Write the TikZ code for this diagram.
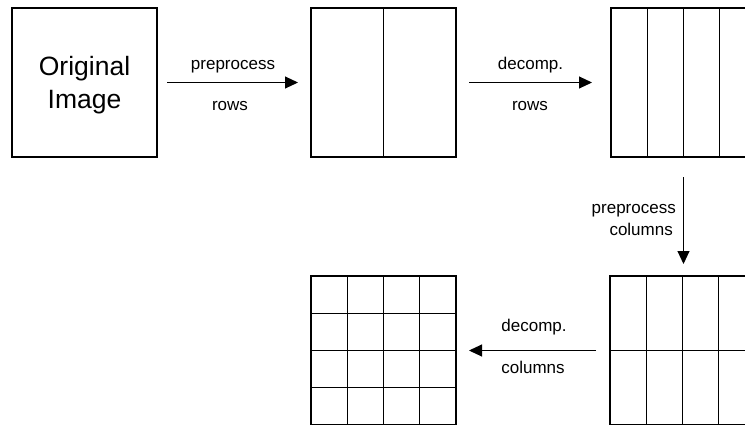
\documentclass[tikz,border=0pt]{standalone}
\usepackage{fontspec}
\setmainfont{Liberation Sans}
\usetikzlibrary{arrows.meta,calc}

\tikzset{
  panel/.style={draw, line width=1.1pt, minimum width=145pt, minimum height=149pt,
                inner sep=0pt, outer sep=0pt},
  grid/.style={line width=1.1pt},
  arr/.style={line width=1pt, -{Triangle[length=13pt,width=12pt]}},
  lbl/.style={inner sep=0pt, font=\fontsize{17}{22}\selectfont},
  title/.style={font=\fontsize{26.5}{33}\selectfont, align=center}
}

\begin{document}
\begin{tikzpicture}[x=1pt,y=-1pt]
  \useasboundingbox (0,0) rectangle (745,424);
  \clip (0,0) rectangle (745,424);

  % source image
  \node[panel, title] (orig) at (84.5,82.5) {\rule{0pt}{23.7pt}Original\\Image};

  % split into two columns
  \node[panel] (half) at (383.5,82.5) {};
  \draw[grid] (half.north) -- (half.south);

  % split into four columns
  \node[panel] (quarter) at (683.5,82.5) {};
  \foreach \f in {0.25,0.5,0.75}
    \draw[grid] ($(quarter.north west)!\f!(quarter.north east)$) -- ($(quarter.south west)!\f!(quarter.south east)$);

  % four columns, two rows
  \node[panel] (eighth) at (682.5,350.5) {};
  \foreach \f in {0.25,0.5,0.75}
    \draw[grid] ($(eighth.north west)!\f!(eighth.north east)$) -- ($(eighth.south west)!\f!(eighth.south east)$);
  \draw[grid] (eighth.west) -- (eighth.east);

  % four by four
  \node[panel] (sixteen) at (383.5,350.5) {};
  \foreach \f in {0.25,0.5,0.75} {
    \draw[grid] ($(sixteen.north west)!\f!(sixteen.north east)$) -- ($(sixteen.south west)!\f!(sixteen.south east)$);
    \draw[grid] ($(sixteen.north west)!\f!(sixteen.south west)$) -- ($(sixteen.north east)!\f!(sixteen.south east)$);
  }

  % connectors
  \draw[arr, shorten <=10pt, shorten >=13pt] (orig) -- (half);
  \draw[arr, shorten <=13pt, shorten >=19pt] (half) -- (quarter);
  \draw[arr, shorten <=20pt, shorten >=12pt] (quarter.south) -- (quarter.south |- eighth.north);
  \draw[arr, shorten <=14pt, shorten >=13pt] (eighth) -- (sixteen);

  % labels
  \node[lbl, anchor=base] (pa) at (233,69) {preprocess};
  \node[lbl, anchor=base] (pb) at (230,110.5) {rows};
  \node[lbl, anchor=base] (da) at (530.5,69) {decomp.};
  \node[lbl, anchor=base] (db) at (530,110.5) {rows};
  \node[lbl, anchor=base east] (va) at (676,213) {preprocess};
  \node[lbl, anchor=base east] (vb) at (673,235) {columns};
  \node[lbl, anchor=base] (ca) at (534,331) {decomp.};
  \node[lbl, anchor=base] (cb) at (533,373) {columns};
\end{tikzpicture}
\end{document}
